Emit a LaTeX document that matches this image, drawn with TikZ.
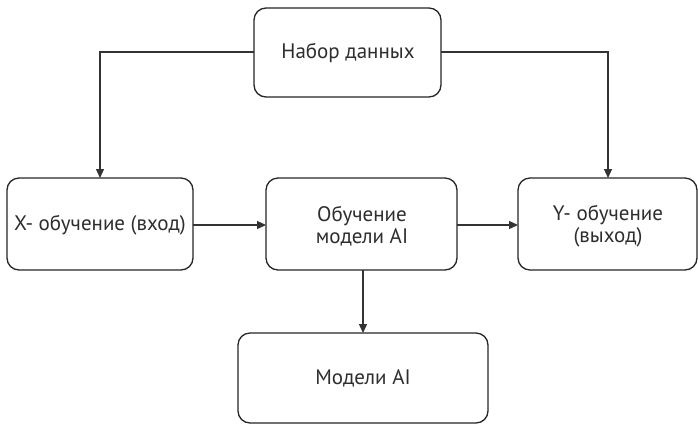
\documentclass[tikz,border=0pt]{standalone}
\usepackage{fontspec}
\setmainfont{PT Sans}
\usetikzlibrary{arrows.meta}
\begin{document}
\begin{tikzpicture}[x=1pt,y=-1pt,
  box/.style={draw=black!85, line width=1.3pt, rounded corners=12pt, fill=white},
  lbl/.style={font=\fontsize{21}{22.5}\selectfont, text=black!82, align=center},
  conn/.style={draw=black!80, line width=1.3pt, -{Triangle[length=9pt,width=8pt]}}]
\useasboundingbox (0,0) rectangle (698,424);
\path[box] (254,8) rectangle (441,97);
\node[lbl] (top) at (348,52.5) {Набор данных};
\coordinate (topL) at (254,52);
\coordinate (topR) at (441,52);
\path[box] (7,178) rectangle (193,270);
\node[lbl] (x) at (100,225) {X- обучение (вход)};
\coordinate (xN) at (100,178);
\coordinate (xE) at (193,225);
\path[box] (266,178) rectangle (457,270);
\node[lbl] (c) at (362,226) {Обучение\\модели AI};
\coordinate (cW) at (266,225);
\coordinate (cE) at (457,225);
\coordinate (cS) at (363,270);
\path[box] (518,178) rectangle (697,270);
\node[lbl] (y) at (608,226) {Y- обучение\\(выход)};
\coordinate (yN) at (608,178);
\coordinate (yW) at (518,225);
\path[box] (238,333) rectangle (488,423);
\node[lbl] (m) at (363,378) {Модели AI};
\coordinate (mN) at (363,333);
\draw[conn] (topL) -| (xN);
\draw[conn] (topR) -| (yN);
\draw[conn] (xE) -- (cW);
\draw[conn] (cE) -- (yW);
\draw[conn] (cS) -- (mN);
\end{tikzpicture}
\end{document}
